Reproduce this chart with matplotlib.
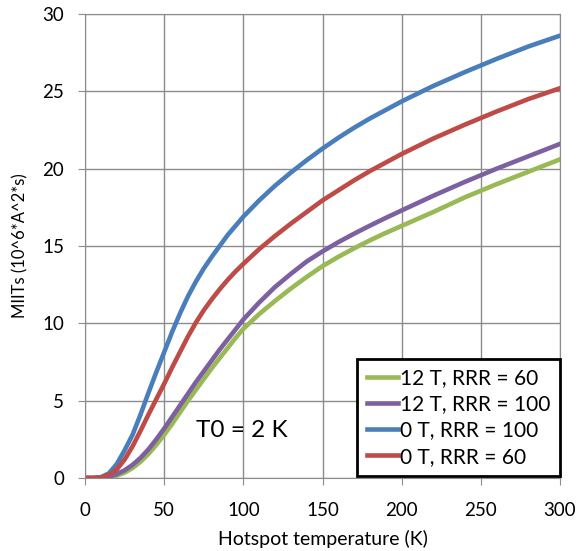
import matplotlib
matplotlib.use('Agg')
import matplotlib.pyplot as plt

plt.rcParams['font.family'] = ['Lato', 'DejaVu Sans']

# hotspot temperature (K) and MIITs for each case
temp = [0, 5, 10, 15, 20, 25, 30, 35, 40, 45, 50, 55, 60, 65, 70, 75, 80, 85, 90, 95, 100,
        110, 120, 130, 140, 150, 160, 170, 180, 190, 200, 220, 240, 260, 280, 300]

miits_12t_60 = [0, 0, 0.01, 0.05, 0.15, 0.35, 0.65, 1.05, 1.55, 2.15, 2.8, 3.5, 4.25, 5.0,
                5.7, 6.4, 7.1, 7.75, 8.4, 9.05, 9.65,
                10.6, 11.45, 12.25, 13.0, 13.7, 14.3, 14.85, 15.37, 15.85, 16.3,
                17.2, 18.15, 19.0, 19.8, 20.6]
miits_12t_100 = [0, 0, 0.02, 0.08, 0.25, 0.5, 0.85, 1.3, 1.85, 2.5, 3.2, 3.95, 4.7, 5.45,
                 6.2, 6.9, 7.6, 8.3, 8.95, 9.6, 10.25,
                 11.35, 12.35, 13.2, 14.0, 14.65, 15.25, 15.8, 16.32, 16.82, 17.3,
                 18.25, 19.15, 20.0, 20.8, 21.6]
miits_0t_100 = [0, 0, 0.05, 0.3, 0.9, 1.8, 2.8, 4.1, 5.5, 6.85, 8.15, 9.45, 10.65, 11.75,
                12.7, 13.55, 14.3, 15.0, 15.7, 16.3, 16.9,
                17.95, 18.9, 19.75, 20.55, 21.3, 22.0, 22.65, 23.25, 23.8, 24.35,
                25.35, 26.25, 27.1, 27.9, 28.6]
miits_0t_60 = [0, 0, 0.03, 0.2, 0.55, 1.2, 2.05, 3.05, 4.1, 5.1, 6.1, 7.15, 8.15, 9.15,
               10.05, 10.85, 11.55, 12.2, 12.8, 13.35, 13.85,
               14.8, 15.65, 16.45, 17.2, 17.95, 18.6, 19.25, 19.85, 20.4, 20.95,
               21.95, 22.85, 23.7, 24.5, 25.2]

labels = ['12 T, RRR = 60', '12 T, RRR = 100', '0 T, RRR = 100', '0 T, RRR = 60']
colors = ['#98B954', '#7D60A0', '#4A7EBB', '#BE4B48']
series = [miits_12t_60, miits_12t_100, miits_0t_100, miits_0t_60]

fig = plt.figure(figsize=(5.79, 5.51), dpi=100)
ax = fig.add_axes([0.147, 0.1325, 0.82, 0.842])

for vals, lab, col in zip(series, labels, colors):
    ax.plot(temp, vals, color=col, lw=3.3, label=lab, solid_joinstyle='round')

ax.set_xlim(0, 300)
ax.set_ylim(0, 30)
ax.set_xticks(range(0, 301, 50))
ax.set_yticks(range(0, 31, 5))
ax.grid(True, color='#8c8c8c', lw=1)
ax.set_axisbelow(True)
for s in ax.spines.values():
    s.set_color('#8c8c8c')
ax.tick_params(direction='out', length=5, color='#8c8c8c', labelsize=13.5)
ax.tick_params(axis='x', pad=12)
ax.tick_params(axis='y', pad=10)

ax.set_xlabel('Hotspot temperature (K)', fontsize=14, labelpad=8)
ax.set_ylabel('MIITs (10^6*A^2*s)', fontsize=12, labelpad=10)

ax.text(70, 3.1, 'T0 = 2 K', fontsize=17.5, va='center')

leg = ax.legend(loc='lower right', bbox_to_anchor=(1.0, 0.004), fontsize=15,
                fancybox=False, framealpha=1, edgecolor='black', handlelength=1.5,
                handletextpad=0.1, borderaxespad=0, labelspacing=0.3, borderpad=0.45)
leg.get_frame().set_linewidth(2)

fig.savefig('out.png', dpi=100)
